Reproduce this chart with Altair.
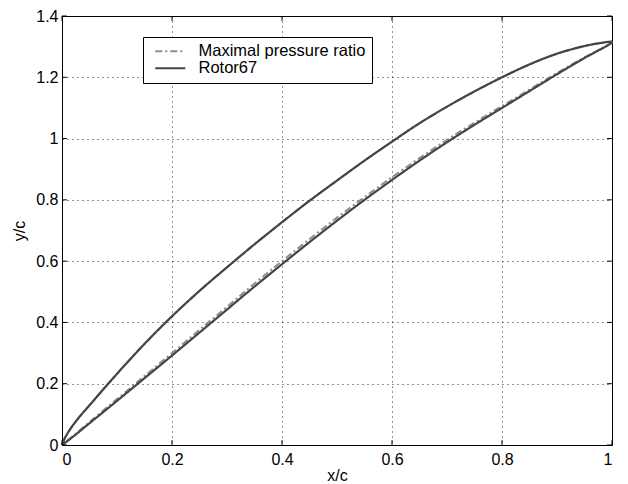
import altair as alt
import pandas as pd

# ---- data ----
series_names = ["Maximal pressure ratio", "Rotor67"]

x_upper = [0, 0.005, 0.015, 0.03, 0.056, 0.084, 0.12, 0.15, 0.2, 0.25, 0.3, 0.35, 0.4,
           0.45, 0.5, 0.55, 0.6, 0.65, 0.7, 0.75, 0.8, 0.85, 0.9, 0.95, 0.98, 1.0]
y_upper_rotor = [0, 0.022, 0.052, 0.088, 0.142, 0.2, 0.272, 0.33, 0.42, 0.503, 0.58, 0.655, 0.727,
                 0.797, 0.863, 0.928, 0.99, 1.05, 1.104, 1.154, 1.2, 1.242, 1.277, 1.302, 1.312, 1.315]
y_upper_opt = [0, 0.022, 0.052, 0.088, 0.142, 0.2, 0.272, 0.33, 0.42, 0.503, 0.58, 0.655, 0.727,
               0.797, 0.863, 0.928, 0.99, 1.05, 1.104, 1.154, 1.2, 1.242, 1.277, 1.302, 1.312, 1.315]

x_lower = [0, 0.02, 0.05, 0.1, 0.15, 0.2, 0.25, 0.3, 0.35, 0.4, 0.45, 0.5,
           0.55, 0.6, 0.65, 0.7, 0.75, 0.8, 0.85, 0.9, 0.95, 1.0]
y_lower_rotor = [0, 0.027, 0.071, 0.144, 0.218, 0.292, 0.367, 0.442, 0.517, 0.59, 0.662, 0.732,
                 0.8, 0.865, 0.928, 0.988, 1.045, 1.1, 1.155, 1.21, 1.263, 1.315]
y_lower_opt = [0, 0.029, 0.075, 0.15, 0.225, 0.3, 0.376, 0.451, 0.527, 0.6, 0.672, 0.742,
               0.809, 0.874, 0.936, 0.996, 1.052, 1.106, 1.16, 1.214, 1.265, 1.315]

x_ticks = [0, 0.2, 0.4, 0.6, 0.8, 1.0]
y_ticks = [0, 0.2, 0.4, 0.6, 0.8, 1.0, 1.2, 1.4]

FONT = "Liberation Sans"


def profile(name, yu, yl):
    rows = []
    k = 0
    for x, y in zip(x_upper, yu):
        rows.append({"series": name, "x": x, "y": y, "order": k}); k += 1
    for x, y in list(zip(x_lower, yl))[::-1][1:]:
        rows.append({"series": name, "x": x, "y": y, "order": k}); k += 1
    return rows


df = pd.DataFrame(profile(series_names[0], y_upper_opt, y_lower_opt)
                  + profile(series_names[1], y_upper_rotor, y_lower_rotor))

xscale = alt.Scale(domain=[0, 1], nice=False, zero=False)
yscale = alt.Scale(domain=[0, 1.4], nice=False, zero=False)


def legend():
    return alt.Legend(title=None, orient="none", legendX=81, legendY=21,
                      fillColor="white", strokeColor="black", padding=6,
                      symbolType="M-3,0H3", symbolSize=100, symbolStrokeWidth=2,
                      symbolOffset=13, labelOffset=20, labelFontSize=16.5,
                      labelFont=FONT, labelColor="black", rowPadding=-2,
                      labelLimit=400)


color = alt.Color("series:N",
                  scale=alt.Scale(domain=series_names, range=["#8e8e8e", "#454545"]),
                  legend=legend())
dash = alt.StrokeDash("series:N",
                      scale=alt.Scale(domain=series_names, range=[[7, 3, 2, 3], [1, 0]]),
                      legend=legend())

xaxis = alt.Axis(values=x_ticks, format="~g", ticks=False, domain=False, grid=True,
                 gridColor="black", gridDash=[1, 4], gridOpacity=0.85,
                 labelFontSize=16, labelFont=FONT, labelColor="black", labelPadding=6,
                 title="x/c", titleFontSize=16, titleFont=FONT, titleFontWeight="normal",
                 titleColor="black", titlePadding=0)
yaxis = alt.Axis(values=y_ticks, format="~g", ticks=False, domain=False, grid=True,
                 gridColor="black", gridDash=[1, 4], gridOpacity=0.85,
                 labelFontSize=16, labelFont=FONT, labelColor="black", labelPadding=4,
                 title="y/c", titleFontSize=16, titleFont=FONT, titleFontWeight="normal",
                 titleColor="black", titlePadding=8)

base = alt.Chart(df)

opt_line = base.transform_filter(alt.datum.series == series_names[0]).mark_line(
    strokeWidth=2, interpolate="catmull-rom").encode(
    x=alt.X("x:Q", scale=xscale, axis=xaxis),
    y=alt.Y("y:Q", scale=yscale, axis=yaxis),
    order="order:Q", color=color, strokeDash=dash)

rotor_line = base.transform_filter(alt.datum.series == series_names[1]).mark_line(
    strokeWidth=2.2, interpolate="catmull-rom").encode(
    x=alt.X("x:Q", scale=xscale),
    y=alt.Y("y:Q", scale=yscale),
    order="order:Q", color=color, strokeDash=dash)

# inward tick marks on all four sides (Matlab style)
tx = pd.DataFrame({"t": x_ticks})
ty = pd.DataFrame({"t": y_ticks})
tick_len_y = 0.016
tick_len_x = 0.009

xt_bottom = alt.Chart(tx).mark_rule(color="black", strokeWidth=1).encode(
    x=alt.X("t:Q", scale=xscale), y=alt.YDatum(0), y2=alt.Y2Datum(tick_len_y))
xt_top = alt.Chart(tx).mark_rule(color="black", strokeWidth=1).encode(
    x=alt.X("t:Q", scale=xscale), y=alt.YDatum(1.4 - tick_len_y), y2=alt.Y2Datum(1.4))
yt_left = alt.Chart(ty).mark_rule(color="black", strokeWidth=1).encode(
    y=alt.Y("t:Q", scale=yscale), x=alt.XDatum(0), x2=alt.X2Datum(tick_len_x))
yt_right = alt.Chart(ty).mark_rule(color="black", strokeWidth=1).encode(
    y=alt.Y("t:Q", scale=yscale), x=alt.XDatum(1 - tick_len_x), x2=alt.X2Datum(1))

chart = alt.layer(opt_line, rotor_line, xt_bottom, xt_top, yt_left, yt_right).properties(
    width=550, height=429,
    autosize=alt.AutoSizeParams(type="none"),
    padding={"left": 54, "top": 8, "right": 8, "bottom": 39},
    background="white",
).configure_view(stroke="black", strokeWidth=1)

chart.save("out.html", embed_options={"renderer": "svg", "actions": False})
